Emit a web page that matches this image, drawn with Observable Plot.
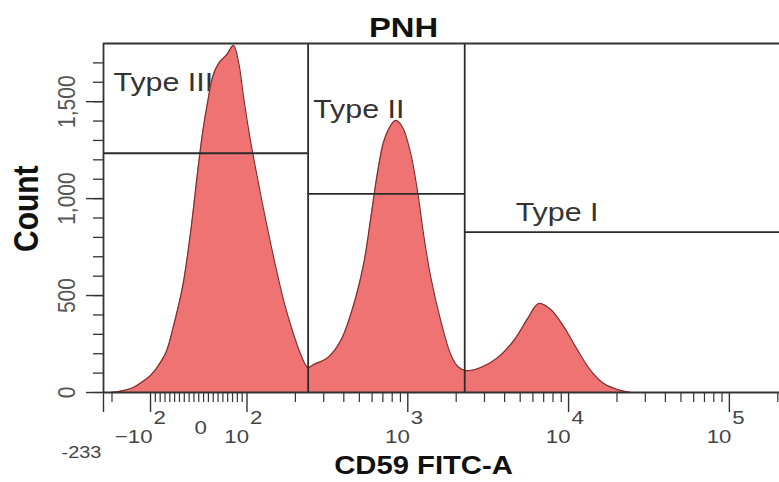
<!DOCTYPE html>
<html><head><meta charset="utf-8">
<script src="https://cdn.jsdelivr.net/npm/d3@7"></script>
<script src="https://cdn.jsdelivr.net/npm/@observablehq/plot@0.6"></script>
<style>
html,body{margin:0;padding:0;background:#fff;overflow:hidden}
#chart svg{display:block;overflow:hidden}
</style></head><body><div id="chart"></div>
<script>
// ---- data (CD59 FITC-A fluorescence vs event count) ----
const cd59 = [-205,-163,-136,-118,-100,-85,-68,-52,-33,-17,-2,8,19,29,41,58,72,83,93,105,117,129,147,169,195,216,239,260,318,383,461,532,588,650,708,783,841,929,1042,1153,1256,1387,1602,1849,2046,2296,2845,3630,4565,5574,6520,7740,9330,11400,13740,16550,20230,24380];
const counts = [0,10,26,52,88,134,206,346,552,825,1145,1341,1506,1630,1697,1743,1790,1697,1521,1300,1093,913,691,474,299,196,129,144,180,268,454,665,897,1140,1294,1377,1403,1367,1233,1031,810,598,371,196,134,113,129,180,268,382,459,428,340,217,113,46,15,0];

// gates
const gateNames = ["Type III", "Type II", "Type I"];
const gateStart = [-233, 240, 2260];
const gateEnd = [240, 2260, 205000];
const gateLevel = [1234, 1024, 827];

// axis
const xMin = -233, xMax = 205000, yMax = 1800;
const xMajor = [-233, -100, 100, 1000, 10000, 100000];
const xLabelAt = [-100, 100, 1000, 10000, 100000];
const xLabelBase = ["\u221210", "10", "10", "10", "10"];
const xLabelExp = ["2", "2", "3", "4", "5"];
const xZeroLabel = ["0"];
const xMinLabel = ["-233"];
const yMajor = [0, 500, 1000, 1500];
const yTickLabels = ["0", "500", "1,000", "1,500"];
const yMinor = d3.range(0, 1800, 100);
const xMinor = [-200, ...d3.range(-90, 100, 10),
  ...[100, 1000, 10000].flatMap(d => [2,3,4,5,6,7,8,9].map(k => k * d)), 200000];

// biexponential-style display transform (linear near zero, log above |100|)
const LIN = 100, LINW = 0.3, NEGQ = 0.796;
function biex(v) {
  if (v >= LIN) return LINW + Math.log10(v / LIN);
  if (v >= -LIN) return LINW * v / LIN;
  return -LINW - NEGQ * Math.log10(-v / LIN);
}

const rows = cd59.map((v, i) => ({v, c: counts[i]}));
const gates = gateNames.map((name, i) => ({name, x1: gateStart[i], x2: gateEnd[i], y: gateLevel[i]}));

const ink = "#2b2b2b";
const typeStyle = {text: "name", textAnchor: "start", lineAnchor: "bottom", fontSize: 26, fill: "#333"};

const fig = Plot.plot({
  width: 779, height: 482,
  marginLeft: 103, marginRight: 0, marginTop: 43, marginBottom: 90,
  style: {fontFamily: "'Liberation Sans', Arial, sans-serif", background: "#fff"},
  x: {type: "linear", domain: [biex(xMin), biex(xMax)], label: null},
  y: {domain: [0, yMax], label: null},
  marks: [
    Plot.text([gates[0]], {...typeStyle, x: d => biex(d.x1), y: "y", dx: 10, dy: -62}),
    Plot.text([gates[1]], {...typeStyle, x: d => biex(d.x1), y: "y", dx: 5, dy: -76}),
    Plot.text([gates[2]], {...typeStyle, x: d => biex(d.x1), y: "y", dx: 51, dy: -11}),
    Plot.areaY(rows, {x: d => biex(d.v), y: "c", curve: "catmull-rom", fill: "#f07373"}),
    Plot.lineY(rows, {x: d => biex(d.v), y: "c", curve: "catmull-rom", stroke: "#7d2e2e", strokeWidth: 1.2}),
    Plot.ruleX(gateStart.slice(1), {x: d => biex(d), stroke: ink, strokeWidth: 1.8}),
    Plot.ruleY(gates, {y: "y", x1: d => biex(d.x1), x2: d => biex(d.x2), stroke: ink, strokeWidth: 1.8}),
    Plot.ruleY([0], {stroke: "#333", strokeWidth: 1.8}),
    Plot.ruleY([yMax], {stroke: "#333", strokeWidth: 1.8}),
    Plot.ruleX([xMin], {x: d => biex(d), stroke: "#333", strokeWidth: 1.8}),
    Plot.axisX(xMinor.map(biex), {tickSize: 10, tickFormat: () => "", stroke: "#333", strokeWidth: 1.2, label: null}),
    Plot.axisX(xMajor.map(biex), {tickSize: 20, tickFormat: () => "", stroke: "#333", strokeWidth: 1.4, label: null}),
    Plot.axisY(yMinor, {tickSize: 10, tickFormat: () => "", stroke: "#333", strokeWidth: 1.3, label: null}),
    Plot.axisY(yMajor, {tickSize: 17, tickFormat: () => "", stroke: "#333", strokeWidth: 1.4, label: null}),
    // x tick labels
    Plot.text(xLabelAt, {x: d => biex(d), text: (d, i) => xLabelBase[i], frameAnchor: "bottom", textAnchor: "end", lineAnchor: "bottom", dx: 2, dy: 50, fontSize: 19, fill: "#444"}),
    Plot.text(xLabelAt, {x: d => biex(d), text: (d, i) => xLabelExp[i], frameAnchor: "bottom", textAnchor: "start", lineAnchor: "bottom", dx: 3, dy: 31, fontSize: 19, fill: "#444"}),
    Plot.text(xZeroLabel, {x: () => biex(0), text: d => d, frameAnchor: "bottom", textAnchor: "middle", lineAnchor: "bottom", dx: 2, dy: 41, fontSize: 19, fill: "#444"}),
    Plot.text(xMinLabel, {x: () => biex(xMin), text: d => d, frameAnchor: "bottom", textAnchor: "middle", lineAnchor: "bottom", dx: -22, dy: 65, fontSize: 17, fill: "#444"}),
    // y tick labels
    Plot.text(yMajor, {y: d => d, text: (d, i) => yTickLabels[i], frameAnchor: "left", rotate: -90, textAnchor: "middle", dx: -36, fontSize: 21, fill: "#555"}),
    // titles
    Plot.text(["PNH"], {frameAnchor: "top", text: d => d, lineAnchor: "bottom", dx: -38, dy: -7, fontSize: 28, fontWeight: "bold", fill: "#111"}),
    Plot.text(["CD59 FITC-A"], {frameAnchor: "bottom", text: d => d, lineAnchor: "bottom", dx: -18, dy: 81, fontSize: 25, fontWeight: "bold", fill: "#111"}),
    Plot.text(["Count"], {frameAnchor: "left", text: d => d, rotate: -90, dx: -77, dy: 34, fontSize: 30, fontWeight: "bold", fill: "#111"})
  ]
});
document.getElementById("chart").append(fig);

// the reference is horizontally stretched: widen glyphs about their anchors
const SX = 1.17;
d3.select(fig).selectAll("text").each(function () {
  if (!this.textContent) return;
  const t = this.getAttribute("transform");
  if (t && /translate\([^)]*\)/.test(t)) {
    this.setAttribute("transform", t.replace(/(translate\([^)]*\))/, `$1 scale(${SX},1)`));
  } else {
    const x = +(this.getAttribute("x") || 0), y = +(this.getAttribute("y") || 0);
    this.setAttribute("transform", `${t || ""} translate(${x},${y}) scale(${SX},1) translate(${-x},${-y})`);
  }
});
</script></body></html>
